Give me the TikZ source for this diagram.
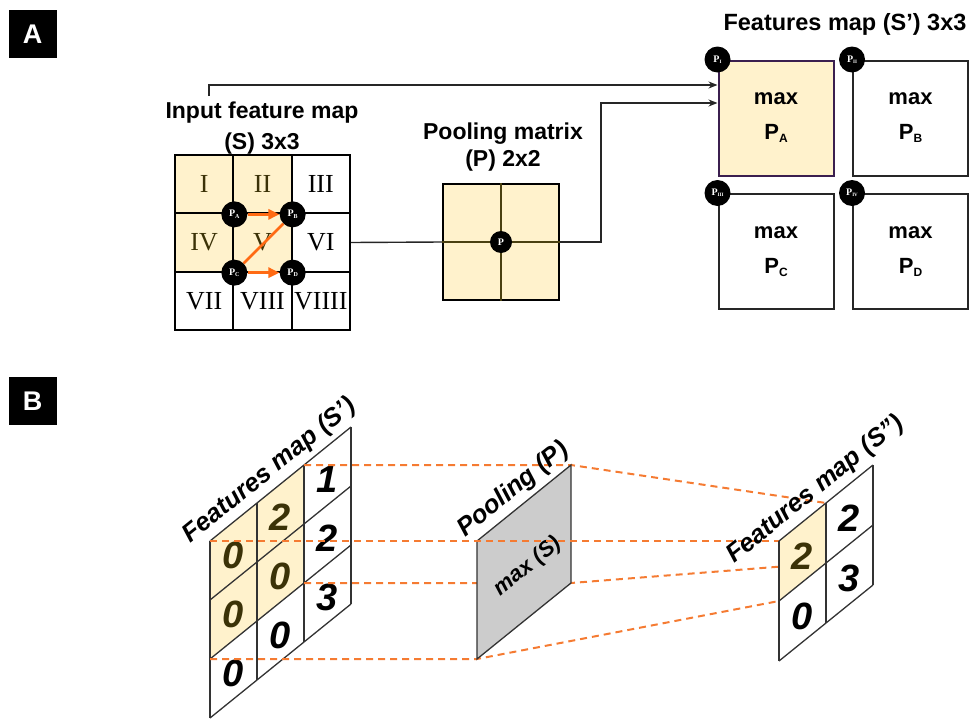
\documentclass[tikz,border=0pt]{standalone}
\usepackage{fontspec}
\setmainfont{Liberation Sans}
\newfontfamily\romfont{Liberation Serif}
\usetikzlibrary{arrows.meta, positioning, calc}

\definecolor{cellyellow}{HTML}{FFF2CC}
\definecolor{olivetext}{HTML}{3B3207}
\definecolor{oliveline}{HTML}{4A4010}
\definecolor{walkorange}{HTML}{FF6A13}
\definecolor{dashorange}{HTML}{F57B32}
\definecolor{boxpurple}{HTML}{3B1F4F}
\definecolor{planegray}{HTML}{CCCCCC}

% P with a small lowered index: letter, size, drop
\newcommand{\Psub}[3]{P\raisebox{#3}{\fontsize{#2}{#2}\selectfont #1}}

\begin{document}
\begin{tikzpicture}[
    x=1pt, y=-1pt,
    every node/.style={inner sep=0pt},
    tag/.style={fill=black, text=white, minimum size=48pt, font=\bfseries\fontsize{27}{27}\selectfont},
    head/.style={align=center, font=\bfseries\fontsize{23}{31}\selectfont},
    cell/.style={draw=black, line width=2pt, minimum size=58.3pt, font=\romfont\fontsize{26}{26}\selectfont},
    picked/.style={fill=cellyellow, text=olivetext},
    whitecell/.style={fill=white},
    pdot/.style={circle, fill=black, minimum size=26pt, text=white, font=\romfont\bfseries\fontsize{10}{10}\selectfont},
    sbox/.style={draw=black!85, line width=2pt, minimum size=115pt, align=center, font=\bfseries\fontsize{22}{35}\selectfont},
    link/.style={line width=1.4pt, draw=black!85},
    arr/.style={-{Stealth[length=9pt, width=7pt]}},
    walk/.style={-{Triangle[length=11pt, width=10pt]}, line width=2.8pt, walkorange},
    proj/.style={dashorange, line width=2pt, dash pattern=on 7pt off 5pt},
    gridline/.style={draw=black!80, line width=1.3pt},
    num/.style={yshift=-4pt, font=\bfseries\itshape\fontsize{38}{38}\selectfont},
    skewlabel/.style={rotate=39, anchor=south, inner sep=5pt, font=\bfseries\itshape\fontsize{25.5}{25.5}\selectfont},
    leftskew/.style={shift={(210,718)}, x={(47pt,38pt)}, y={(0pt,59pt)}},
    poolskew/.style={shift={(477,659)}, x={(47pt,38pt)}, y={(0pt,59pt)}},
    rightskew/.style={shift={(779,661)}, x={(47pt,38pt)}, y={(0pt,60pt)}}
]
    \useasboundingbox (0,0) rectangle (969,720);

    % Panel tags
    \node[tag] (tagA) at (32.5,34) {A};
    \node[tag] (tagB) at (32.5,401) {B};

    % Input feature map (S)
    \foreach \nm/\x/\y/\t/\f in {
        s11/204.2/184.2/I/picked, s12/262.5/184.2/II/picked, s13/320.8/184.2/III/whitecell,
        s21/204.2/242.5/IV/picked, s22/262.5/242.5/V/picked, s23/320.8/242.5/VI/whitecell,
        s31/204.2/300.8/VII/whitecell, s32/262.5/300.8/VIII/whitecell, s33/320.8/300.8/VIIII/whitecell}
        \node[cell, \f] (\nm) at (\x,\y) {\t};

    \node[pdot] (pA) at (s11.south east) {\Psub{A}{6}{-1.5pt}};
    \node[pdot] (pB) at (s12.south east) {\Psub{B}{6}{-1.5pt}};
    \node[pdot] (pC) at (s21.south east) {\Psub{C}{6}{-1.5pt}};
    \node[pdot] (pD) at (s22.south east) {\Psub{D}{6}{-1.5pt}};

    \draw[walk] (pA) -- (pB);
    \draw[walk, -] (pC) -- (pB);
    \draw[walk] (pC) -- (pD);

    \node[head] (inLab) at (262,128) {Input feature map\\(S) 3x3};

    % Pooling matrix (P)
    \node[draw=black, line width=2pt, fill=cellyellow, minimum size=116pt] (pool) at (501,242) {};
    \draw[oliveline, line width=2pt] (pool.north) -- (pool.south) (pool.west) -- (pool.east);
    \node[pdot, minimum size=22pt] (pP) at (pool.center) {P};
    \node[head, font=\bfseries\fontsize{23}{27}\selectfont] (poolLab) at (503,147.5) {Pooling matrix\\(P) 2x2};

    % Features map (S')
    \node[sbox, fill=cellyellow, draw=boxpurple] (sA) at (776,118) {max\\\Psub{A}{12}{-3pt}};
    \node[sbox] (sB) at (910.5,118) {max\\\Psub{B}{12}{-3pt}};
    \node[sbox] (sC) at (776,251.5) {max\\\Psub{C}{12}{-3pt}};
    \node[sbox] (sD) at (910.5,251.5) {max\\\Psub{D}{12}{-3pt}};

    \node[pdot] (pI) at (sA.north west) {\Psub{I}{5}{-1pt}};
    \node[pdot] (pII) at (sB.north west) {\Psub{II}{5}{-1pt}};
    \node[pdot] (pIII) at (sC.north west) {\Psub{III}{5}{-1pt}};
    \node[pdot] (pIV) at (sD.north west) {\Psub{IV}{5}{-1pt}};

    \node[head, anchor=base, font=\bfseries\fontsize{23.5}{23.5}\selectfont] (outLab) at (845,30) {Features map (S') 3x3};

    % Connectors
    \draw[link] (s23.east) -- (pool.west);
    \draw[link, arr] (pool.east) -- ++(41,0) |- ([yshift=15pt]sA.west);
    \draw[link, arr] ([xshift=-53pt, yshift=5.5pt]inLab.north) |- ([yshift=33pt]sA.west);

    % Features map (S') in perspective
    \begin{scope}[leftskew]
        \fill[cellyellow] (0,1) -- (2,1) -- (2,3) -- (0,3) -- cycle;
        \foreach \i in {0,...,3} \draw[gridline] (\i,0) -- (\i,3);
        \foreach \j in {0,...,3} \draw[gridline] (0,\j) -- (3,\j);
        \foreach \i/\j/\v/\c in {0/2/0/olivetext, 0/1/0/olivetext, 0/0/0/black,
                                 1/2/2/olivetext, 1/1/0/olivetext, 1/0/0/black,
                                 2/2/1/black, 2/1/2/black, 2/0/3/black}
            \node[num, text=\c] (l\i\j) at (\i+.5,\j+.5) {\v};
        \coordinate (lA) at (2,3);
        \coordinate (lB) at (0,3);
        \coordinate (lC) at (2,1);
        \coordinate (lD) at (0,1);
        \node[skewlabel] (lLab) at (1.5,3) {Features map (S')};
    \end{scope}

    \begin{scope}[poolskew]
        \coordinate (qBL) at (0,0);
        \coordinate (qBR) at (2,0);
        \coordinate (qTR) at (2,2);
        \coordinate (qTL) at (0,2);
    \end{scope}

    \begin{scope}[rightskew]
        \coordinate (rA) at (1,2);
        \coordinate (rB) at (0,2);
        \coordinate (rC) at (1,1);
        \coordinate (rD) at (0,1);
    \end{scope}

    % Projections
    \draw[proj] (lA) -- (qTR) -- (rA);
    \draw[proj] (lC) -- (qBR) -- (rC);
    \draw[proj] (lD) -- (qBL) -- (rD);

    % Pooling (P) plane
    \filldraw[fill=planegray, gridline] (qBL) -- (qBR) -- (qTR) -- (qTL) -- cycle;
    \node[skewlabel] (qLab) at ($(qTL)!.5!(qTR)$) {Pooling (P)};
    \node[rotate=39, yshift=-6pt, font=\bfseries\itshape\fontsize{22}{22}\selectfont] (qMax) at ($(qTL)!.5!(qBR)$) {max (S)};

    \draw[proj] (lB) -- (qTL) -- (rB);

    % Features map (S'') in perspective
    \begin{scope}[rightskew]
        \fill[white] (0,0) -- (2,0) -- (2,2) -- (0,2) -- cycle;
        \fill[cellyellow] (0,1) -- (1,1) -- (1,2) -- (0,2) -- cycle;
        \foreach \i in {0,...,2} \draw[gridline] (\i,0) -- (\i,2);
        \foreach \j in {0,...,2} \draw[gridline] (0,\j) -- (2,\j);
        \foreach \i/\j/\v/\c in {0/1/2/olivetext, 0/0/0/black, 1/1/2/black, 1/0/3/black}
            \node[num, text=\c] (r\i\j) at (\i+.5,\j+.5) {\v};
        \node[skewlabel] (rLab) at (1,2) {Features map (S'')};
    \end{scope}
\end{tikzpicture}
\end{document}
